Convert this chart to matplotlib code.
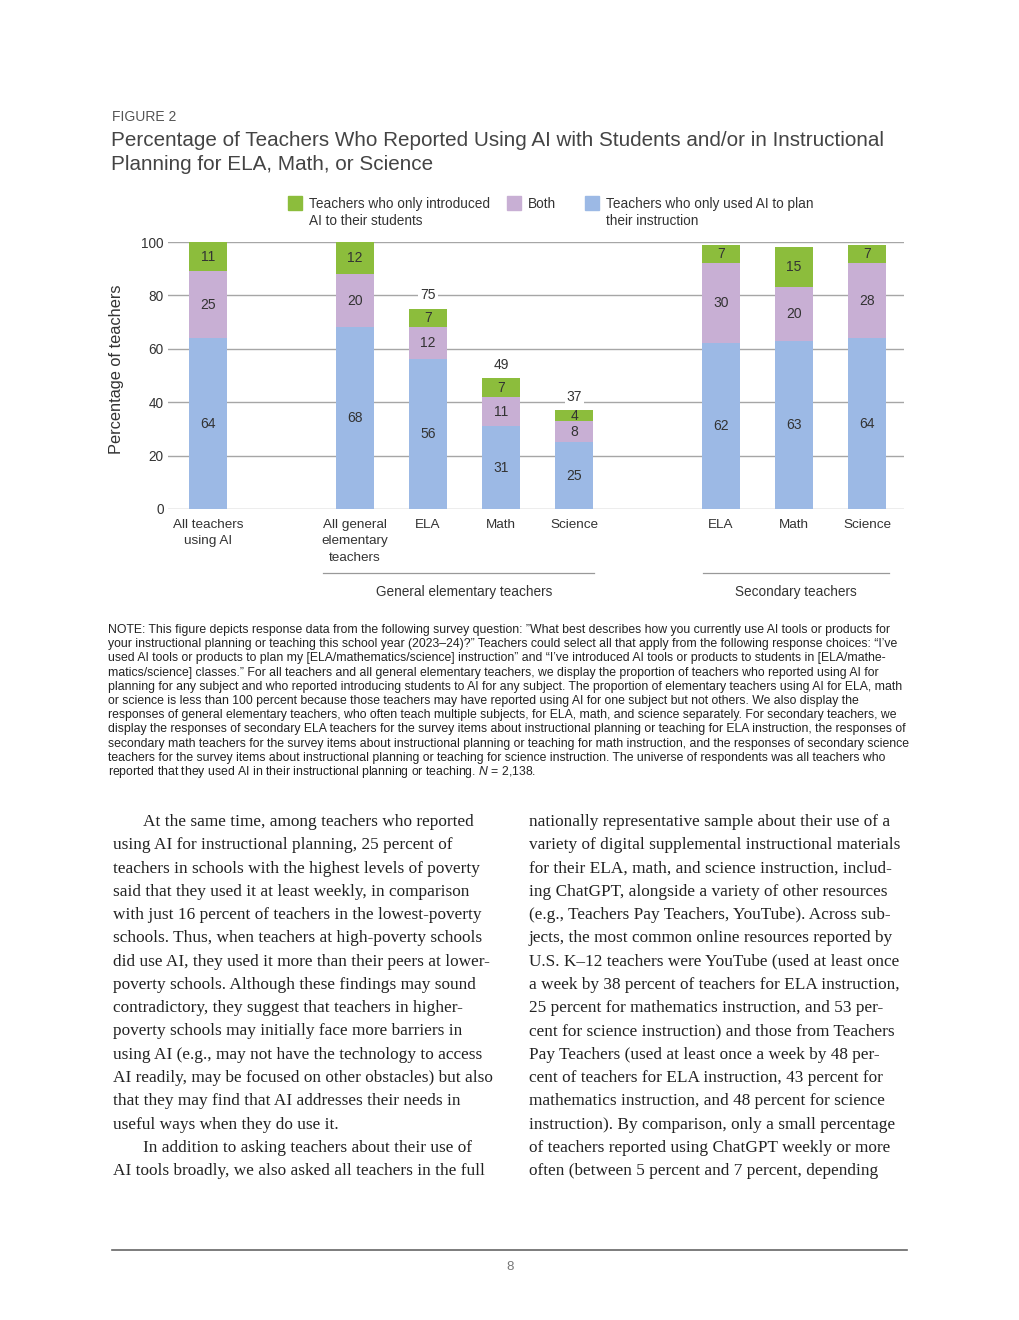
import matplotlib
matplotlib.use('Agg')
import matplotlib.pyplot as plt
from matplotlib.patches import Rectangle
import numpy as np

plt.rcParams['font.family'] = ['Liberation Sans', 'DejaVu Sans']
plt.rcParams['mathtext.fontset'] = 'custom'
plt.rcParams['mathtext.it'] = 'Liberation Sans:italic'
plt.rcParams['mathtext.rm'] = 'Liberation Sans'

# data
categories = ['All teachers\nusing AI', 'All general\nelementary\nteachers', 'ELA', 'Math', 'Science',
              'ELA', 'Math', 'Science']
positions = [0, 2, 3, 4, 5, 7, 8, 9]
plan_only = [64, 68, 56, 31, 25, 62, 63, 64]
both = [25, 20, 12, 11, 8, 30, 20, 28]
students_only = [11, 12, 7, 7, 4, 7, 15, 7]
show_total = [False, False, True, True, True, False, False, False]
series_names = ['Teachers who only introduced\nAI to their students', 'Both',
                'Teachers who only used AI to plan\ntheir instruction']
colors = ['#8cbd3c', '#c8afd4', '#9cb9e5']
yticks = [0, 20, 40, 60, 80, 100]
groups = ['General elementary teachers', 'Secondary teachers']
group_spans = [(1.57, 5.27), (6.75, 9.30)]
group_label_x = [3.49, 8.03]

W, H = 1020, 1320
fx = lambda x: x / W
fy = lambda y: 1 - y / H

fig = plt.figure(figsize=(W / 100, H / 100), dpi=100)
ax = fig.add_axes([fx(168), fy(509), (904 - 168) / W, (509 - 242) / H])

txt = '#333333'
grid_c = '#a6a6a6'

for y in yticks:
    ax.axhline(y, color=grid_c, lw=1, zorder=0)

bw = 0.52
b1 = ax.bar(positions, plan_only, bw, color=colors[2], zorder=2)
bottom2 = np.array(plan_only)
b2 = ax.bar(positions, both, bw, bottom=bottom2, color=colors[1], zorder=2)
bottom3 = bottom2 + np.array(both)
b3 = ax.bar(positions, students_only, bw, bottom=bottom3, color=colors[0], zorder=2)

for cont in (b1, b2, b3):
    ax.bar_label(cont, label_type='center', fontsize=10, color=txt)

totals = bottom3 + np.array(students_only)
for p, t, s in zip(positions, totals, show_total):
    if s:
        ax.annotate(str(t), (p, t), xytext=(0, 9.7), textcoords='offset points',
                    ha='center', va='center', fontsize=10, color=txt, zorder=3,
                    bbox=dict(boxstyle='square,pad=0.15', fc='white', ec='none'))

ax.set_xlim(-0.55, 9.5)
ax.set_ylim(0, 100)
ax.set_yticks(yticks)
ax.set_yticklabels([str(v) for v in yticks], fontsize=9.8, color=txt)
ax.set_xticks(positions)
ax.set_xticklabels(categories, fontsize=9.7, color=txt, linespacing=1.5)
ax.tick_params(axis='both', length=0)
ax.tick_params(axis='x', pad=7)
ax.tick_params(axis='y', pad=3)
for sp in ax.spines.values():
    sp.set_visible(False)
ax.set_ylabel('Percentage of teachers', fontsize=11.8, color=txt)
ax.yaxis.set_label_coords((124 - 168) / 736, 0.522)

# group brackets below the axis
trans = ax.get_xaxis_transform()
for name, (x0, x1), lx in zip(groups, group_spans, group_label_x):
    ax.plot([x0, x1], [-0.24, -0.24], color='#999999', lw=0.9, transform=trans, clip_on=False)
    ax.text(lx, -0.31, name, transform=trans, ha='center', va='center',
            fontsize=9.8, color=txt)

# legend
leg_x = [288, 507, 585]
for lx, c, name in zip(leg_x, [colors[0], colors[1], colors[2]], series_names):
    fig.patches.append(Rectangle((fx(lx), fy(210)), 14 / W, 14 / H, transform=fig.transFigure,
                                 color=c, figure=fig))
    fig.text(fx(lx + 21), fy(197), name, ha='left', va='top', fontsize=9.8, color=txt,
             linespacing=1.3)

# title
fig.text(fx(112), fy(117), 'FIGURE 2', fontsize=10, color='#555555', va='center')
fig.text(fx(111), fy(141), 'Percentage of Teachers Who Reported Using AI with Students and/or in Instructional',
         fontsize=14.9, color='#444444', va='center')
fig.text(fx(111), fy(164), 'Planning for ELA, Math, or Science', fontsize=14.9, color='#444444', va='center')

# note
note_lines = [
    'NOTE: This figure depicts response data from the following survey question: \u201dWhat best describes how you currently use AI tools or products for',
    'your instructional planning or teaching this school year (2023\u201324)?\u201d Teachers could select all that apply from the following response choices: \u201cI\u2019ve',
    'used AI tools or products to plan my [ELA/mathematics/science] instruction\u201d and \u201cI\u2019ve introduced AI tools or products to students in [ELA/mathe-',
    'matics/science] classes.\u201d For all teachers and all general elementary teachers, we display the proportion of teachers who reported using AI for',
    'planning for any subject and who reported introducing students to AI for any subject. The proportion of elementary teachers using AI for ELA, math',
    'or science is less than 100 percent because those teachers may have reported using AI for one subject but not others. We also display the',
    'responses of general elementary teachers, who often teach multiple subjects, for ELA, math, and science separately. For secondary teachers, we',
    'display the responses of secondary ELA teachers for the survey items about instructional planning or teaching for ELA instruction, the responses of',
    'secondary math teachers for the survey items about instructional planning or teaching for math instruction, and the responses of secondary science',
    'teachers for the survey items about instructional planning or teaching for science instruction. The universe of respondents was all teachers who',
    r'reported that they used AI in their instructional planning or teaching. $N$ = 2,138.',
]
for i, line in enumerate(note_lines):
    fig.text(fx(108), fy(633 + i * 14.2), line, fontsize=8.8, color='#222222', va='baseline')

# body text
left_col = [
    (True, 'At the same time, among teachers who reported'),
    (False, 'using AI for instructional planning, 25 percent of'),
    (False, 'teachers in schools with the highest levels of poverty'),
    (False, 'said that they used it at least weekly, in comparison'),
    (False, 'with just 16 percent of teachers in the lowest-poverty'),
    (False, 'schools. Thus, when teachers at high-poverty schools'),
    (False, 'did use AI, they used it more than their peers at lower-'),
    (False, 'poverty schools. Although these findings may sound'),
    (False, 'contradictory, they suggest that teachers in higher-'),
    (False, 'poverty schools may initially face more barriers in'),
    (False, 'using AI (e.g., may not have the technology to access'),
    (False, 'AI readily, may be focused on other obstacles) but also'),
    (False, 'that they may find that AI addresses their needs in'),
    (False, 'useful ways when they do use it.'),
    (True, 'In addition to asking teachers about their use of'),
    (False, 'AI tools broadly, we also asked all teachers in the full'),
]
right_col = [
    'nationally representative sample about their use of a',
    'variety of digital supplemental instructional materials',
    'for their ELA, math, and science instruction, includ-',
    'ing ChatGPT, alongside a variety of other resources',
    '(e.g., Teachers Pay Teachers, YouTube). Across sub-',
    'jects, the most common online resources reported by',
    'U.S. K\u201312 teachers were YouTube (used at least once',
    'a week by 38 percent of teachers for ELA instruction,',
    '25 percent for mathematics instruction, and 53 per-',
    'cent for science instruction) and those from Teachers',
    'Pay Teachers (used at least once a week by 48 per-',
    'cent of teachers for ELA instruction, 43 percent for',
    'mathematics instruction, and 48 percent for science',
    'instruction). By comparison, only a small percentage',
    'of teachers reported using ChatGPT weekly or more',
    'often (between 5 percent and 7 percent, depending',
]
body_font = dict(fontsize=12.4, color='#222222', family='Liberation Serif', va='baseline')
for i, (indent, line) in enumerate(left_col):
    fig.text(fx(143 if indent else 113), fy(826 + i * 23.27), line, **body_font)
for i, line in enumerate(right_col):
    fig.text(fx(529), fy(826 + i * 23.27), line, **body_font)

# footer
fig.add_artist(plt.Line2D([fx(112), fx(907)], [fy(1250), fy(1250)], color='#666666', lw=1.2,
                          transform=fig.transFigure))
fig.text(fx(510), fy(1267), '8', fontsize=9.5, color='#777777', ha='center', va='center')

fig.savefig('out.png', dpi=100)
